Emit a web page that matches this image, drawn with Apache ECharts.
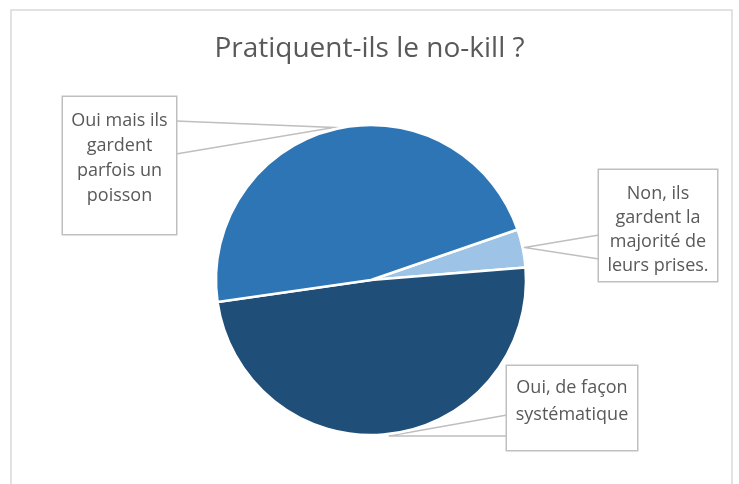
<!DOCTYPE html>
<html><head><meta charset="utf-8">
<script src="https://cdn.jsdelivr.net/npm/echarts@6/dist/echarts.min.js"></script>
<style>html,body{margin:0;padding:0;background:#fff}#main{width:739px;height:484px}</style>
</head><body><div id="main"></div>
<script>
// ---- data ----
const titleText = 'Pratiquent-ils le no-kill ?';
const categories = [
  'Non, ils gardent la majorité de leurs prises.',
  'Oui, de façon systématique',
  'Oui mais ils gardent parfois un poisson'
];
const labelLines = [
  'Non, ils\ngardent la\nmajorité de\nleurs prises.',
  'Oui, de façon\nsystématique',
  'Oui mais ils\ngardent\nparfois un\npoisson'
];
const values = [4, 49, 47];
const colors = ['#9DC3E6', '#1F4E79', '#2E75B6'];

// ---- callout layout (positions/sizes of label boxes, wedge base points) ----
const boxes = [
  {x: 599, y: 170, w: 118, h: 111, padTop: 12, lh: 24, ax: 599, ay: 235, bx: 599, by: 259},
  {x: 507, y: 366, w: 130, h: 84, padTop: 8, lh: 27, ax: 507, ay: 415, bx: 507, by: 436},
  {x: 63, y: 97, w: 113, h: 137, padTop: 11, lh: 25, ax: 176, ay: 121, bx: 176, by: 154}
];

const chart = echarts.init(document.getElementById('main'), null, {renderer: 'canvas'});
const data = values.map((v, i) => ({
  value: v,
  name: categories[i],
  itemStyle: {color: colors[i]},
  label: {
    formatter: labelLines[i],
    width: boxes[i].w,
    height: boxes[i].h - boxes[i].padTop,
    lineHeight: boxes[i].lh,
    padding: [boxes[i].padTop, 0, 0, 0]
  }
}));

chart.setOption({
  backgroundColor: '#ffffff',
  animation: false,
  title: {
    text: titleText,
    left: 'center',
    top: 30,
    textStyle: {fontFamily: 'Open Sans', fontSize: 28, fontWeight: 'normal', color: '#595959'}
  },
  graphic: [{
    type: 'rect', silent: true, z: -10,
    shape: {x: 11, y: 10, width: 721, height: 500},
    style: {fill: '#ffffff', stroke: '#D9D9D9', lineWidth: 1.5}
  }],
  series: [{
    type: 'pie',
    center: [371, 280],
    radius: 155,
    startAngle: 19,
    clockwise: true,
    data: data,
    itemStyle: {borderColor: '#ffffff', borderWidth: 2.5},
    label: {
      show: true,
      position: 'outside',
      fontFamily: 'Open Sans',
      fontSize: 18,
      color: '#595959',
      align: 'center',
      backgroundColor: '#ffffff',
      borderColor: '#BFBFBF',
      borderWidth: 1.5,
      overflow: 'none'
    },
    labelLine: {show: true, lineStyle: {color: '#BFBFBF', width: 1.5}, length: 10, length2: 10},
    labelLayout: function (params) {
      const b = boxes[params.dataIndex];
      const p0 = params.labelLinePoints[0], p1 = params.labelLinePoints[1];
      const dx = p1[0] - p0[0], dy = p1[1] - p0[1];
      const d = Math.sqrt(dx * dx + dy * dy) || 1;
      const tip = [p0[0] + 2 * dx / d, p0[1] + 2 * dy / d];
      return {
        x: b.x + b.w / 2, y: b.y, align: 'center', verticalAlign: 'top',
        labelLinePoints: [[b.ax, b.ay], tip, [b.bx, b.by]]
      };
    }
  }]
});
</script></body></html>
